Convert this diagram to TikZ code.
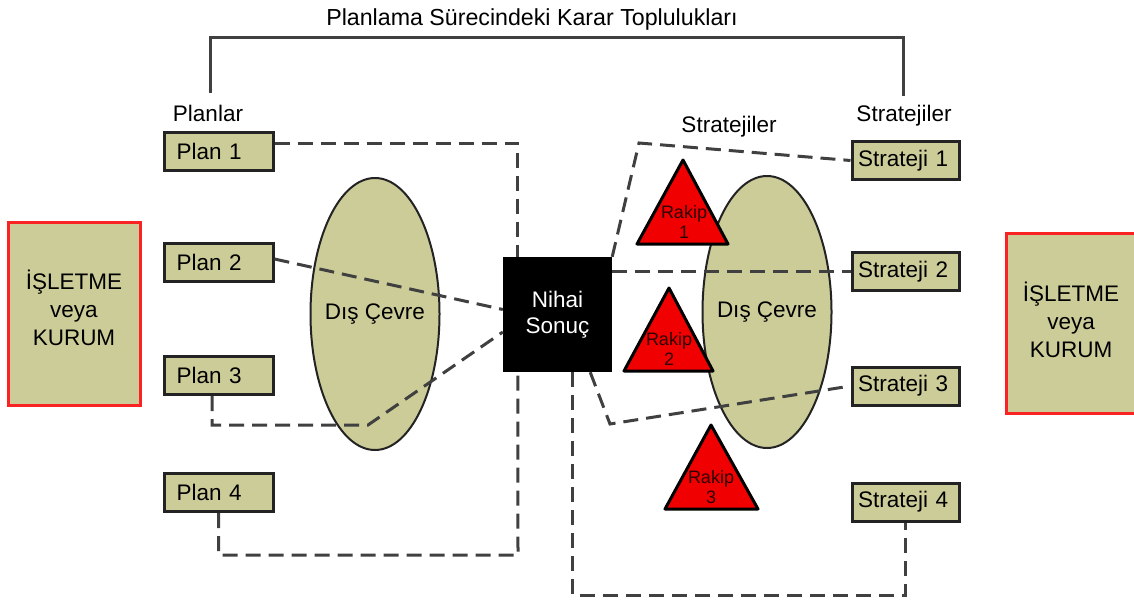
\documentclass[tikz,border=0pt]{standalone}
\usepackage{fontspec}
\setmainfont{Liberation Sans}
\usetikzlibrary{shapes.geometric}

\definecolor{khaki}{RGB}{204,204,153}
\definecolor{boxline}{RGB}{35,35,35}
\definecolor{dashgray}{RGB}{64,64,64}
\definecolor{orgred}{RGB}{250,35,35}
\definecolor{rakipred}{RGB}{240,0,0}
\definecolor{rakiptext}{RGB}{45,0,0}

\tikzset{
  txt/.style={font=\fontsize{22.5}{26}\selectfont},
  planbox/.style={txt, draw=boxline, line width=3pt, fill=khaki, minimum height=38pt,
    text width=84pt, inner xsep=12.5pt, inner ysep=0pt, align=left},
  stratbox/.style={planbox, text width=95pt, inner xsep=6pt},
  orgbox/.style={draw=orgred, line width=3pt, fill=khaki, inner sep=0pt},
  orgtext/.style={font=\fontsize{22.5}{28}\selectfont, align=center, inner sep=0pt},
  envellipse/.style={ellipse, draw=boxline, line width=2pt, fill=khaki,
    minimum width=129pt, minimum height=272pt, inner sep=0pt},
  resultbox/.style={font=\fontsize{22.5}{26}\selectfont, fill=black, text=white, align=center,
    minimum width=109pt, minimum height=115pt, inner sep=0pt},
  link/.style={draw=dashgray, line width=3pt, dash pattern=on 15pt off 8pt},
  bracketline/.style={draw=dashgray, line width=3pt},
  rakip/.style={draw=black, line width=3pt, fill=rakipred, line join=round},
  rakiplabel/.style={font=\fontsize{18}{20}\selectfont, text=rakiptext, align=center, inner sep=0pt},
}

\begin{document}
\begin{tikzpicture}[x=1pt, y=-1pt]
\useasboundingbox (0,0) rectangle (1134,602);
\clip (0,0) rectangle (1134,602);

% heading and bracket over the two groups
\node[font=\fontsize{23.2}{26}\selectfont, anchor=base] (title) at (532,26) {Planlama Sürecindeki Karar Toplulukları};
\coordinate (brl) at (210,93);
\coordinate (brr) at (903,96);
\draw[bracketline] (brl) |- (556,38) -| (brr);
\node[txt, anchor=base] (planlar) at (208,121) {Planlar};
\node[txt, anchor=base] (stratR) at (904,121) {Stratejiler};
\node[txt, anchor=base] (stratM) at (729,132) {Stratejiler};

% organisation boxes at both sides
\node[orgbox, minimum width=132pt, minimum height=183pt] (orgL) at (74,313.5) {};
\node[orgtext] (orgLtext) at (74,308) {İŞLETME\\veya\\KURUM};
\node[orgbox, minimum width=130pt, minimum height=180pt] (orgR) at (1071,323) {};
\node[orgtext] (orgRtext) at (1071,320) {İŞLETME\\veya\\KURUM};

% external environment
\node[envellipse] (envL) at (375,314) {};
\node[txt] (envLtext) at (envL.center) {Dış Çevre};
\node[envellipse] (envR) at (767,312) {};
\node[txt] (envRtext) at (envR.center) {Dış Çevre};

% plans
\node[planbox] (p1) at (218.5,151) {Plan 1};
\node[planbox] (p2) at (218.5,262) {Plan 2};
\node[planbox] (p3) at (218.5,375.5) {Plan 3};
\node[planbox] (p4) at (218.5,492.5) {Plan 4};

% strategies
\node[stratbox] (s1) at (905.5,160.5) {Strateji 1};
\node[stratbox] (s2) at (905.5,271.5) {Strateji 2};
\node[stratbox] (s3) at (905.5,386) {Strateji 3};
\node[stratbox] (s4) at (905.5,502) {Strateji 4};

% final result
\node[resultbox] (nihai) at (557.5,314.5) {Nihai\\Sonuç};

% bend points of the connectors
\coordinate (p3k) at (368,425);
\coordinate (p4k) at (518,555);
\coordinate (s1k) at (639,143);
\coordinate (s3k) at (610,424);
\coordinate (s4k) at (905.5,595);

% plans to the result
\draw[link] ([yshift=8pt]p1.east) -| ([xshift=15pt]nihai.north west);
\draw[link] ([yshift=3pt]p2.east) -- ([yshift=5pt]nihai.west);
\draw[link] ([xshift=-6.5pt]p3.south) |- (p3k) -- ([yshift=-17.5pt]nihai.west);
\draw[link] (p4.south) |- (p4k) -- ([xshift=15pt]nihai.south west);

% result to the strategies
\draw[link] (nihai.north east) -- (s1k) -- (s1.west);
\draw[link] (nihai.east |- s2.west) -- (s2.west);
\draw[link] ([xshift=-22pt]nihai.south east) -- (s3k) -- (s3.west);
\draw[link] ([xshift=70pt]nihai.south west) |- (s4k) -- (s4.south);

% competitors
\draw[rakip] (683,160) -- (728,244) -- (637,244) -- cycle;
\node[rakiplabel] (r1) at (684,222.4) {Rakip\\1};
\draw[rakip] (669,288) -- (713,371) -- (624,371) -- cycle;
\node[rakiplabel] (r2) at (669,349.4) {Rakip\\2};
\draw[rakip] (711,425) -- (758,509) -- (665,509) -- cycle;
\node[rakiplabel] (r3) at (711,487.4) {Rakip\\3};
\end{tikzpicture}
\end{document}
